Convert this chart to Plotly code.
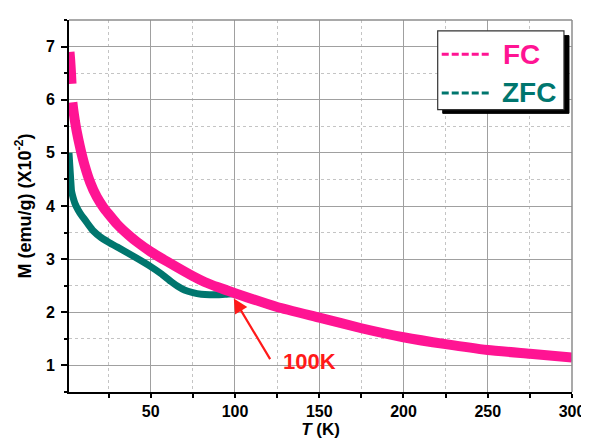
import plotly.graph_objects as go

# ---- data ----
fc_T = [1.8, 2.2, 2.6, 3.0, None,
        3.5, 4, 5, 6, 7, 8.7, 11, 14, 18, 22, 25, 30, 37, 42, 50, 60, 75, 82, 90,
        100, 125, 150, 175, 200, 225, 250, 275, 300]
fc_M = [6.9, 6.75, 6.55, 6.3, None,
        5.95, 5.82, 5.6, 5.42, 5.26, 5.02, 4.74, 4.45, 4.17, 3.97, 3.85, 3.66, 3.45, 3.32, 3.14, 2.95, 2.68, 2.57, 2.47,
        2.36, 2.1, 1.9, 1.7, 1.53, 1.4, 1.29, 1.22, 1.15]

zfc_T = [1.5, 2, 2.5, 3, 4, 5, 7, 9, 11, 13, 16, 20, 25, 30, 40, 50, 56, 62, 66, 70, 75,
         80, 85, 90, 95, 100, 110, 125, 150, 175, 200, 225, 250, 275, 300]
zfc_M = [5.0, 4.75, 4.5, 4.28, 4.15, 4.05, 3.92, 3.82, 3.74, 3.65, 3.53, 3.42, 3.32, 3.23, 3.05, 2.86,
         2.73, 2.58, 2.49, 2.42, 2.37, 2.34, 2.33, 2.33, 2.34, 2.35, 2.24, 2.09, 1.89, 1.69, 1.52,
         1.39, 1.28, 1.21, 1.14]

series_names = ["FC", "ZFC"]
x_ticks = [50, 100, 150, 200, 250, 300]
y_ticks = [1, 2, 3, 4, 5, 6, 7]

PINK = "#ff1493"
TEAL = "#00766e"
RED = "#ff1a1a"
FONT = "Arial, Liberation Sans, sans-serif"

fig = go.Figure()
fig.add_trace(go.Scatter(x=zfc_T, y=zfc_M, mode="lines", name=series_names[1],
                         line=dict(color=TEAL, width=7, shape="spline", smoothing=0.5),
                         showlegend=False))
fig.add_trace(go.Scatter(x=fc_T, y=fc_M, mode="lines", name=series_names[0],
                         line=dict(color=PINK, width=10, shape="spline", smoothing=0.5),
                         connectgaps=False, showlegend=False))

axis_common = dict(
    showline=True, linecolor="black", linewidth=2,
    showgrid=True, gridcolor="#a0a0a0", gridwidth=1.2,
    ticks="outside", tickcolor="black", tickwidth=1.5,
    tickfont=dict(family=FONT, size=16, color="black", weight="bold"),
    zeroline=False,
)

fig.update_xaxes(
    range=[1.5, 300], tickmode="array", tickvals=x_ticks, ticklen=4,
    minor=dict(dtick=25, tick0=0, showgrid=True, griddash="dot", gridcolor="#c4c4c4",
               gridwidth=1, ticks="outside", ticklen=4, tickcolor="black", tickwidth=1.5),
    title=dict(text="<i>T</i> (K)", font=dict(family=FONT, size=17, color="black", weight="bold"),
               standoff=4),
    **axis_common,
)
fig.update_yaxes(
    range=[0.5, 7.5], tickmode="array", tickvals=y_ticks, ticklen=6,
    ticklabelstandoff=3,
    minor=dict(dtick=0.5, tick0=0, showgrid=True, griddash="dot", gridcolor="#c4c4c4",
               gridwidth=1, ticks="outside", ticklen=3, tickcolor="black", tickwidth=1.5),
    title=dict(text="M (emu/g) (X10<sup>-2</sup>)",
               font=dict(family=FONT, size=18, color="black", weight="bold"), standoff=10),
    **axis_common,
)

shapes = [
    # top / right frame
    dict(type="line", xref="paper", yref="paper", x0=0, x1=1, y0=1, y1=1,
         line=dict(color="#8c8c8c", width=1.5)),
    dict(type="line", xref="paper", yref="paper", x0=1, x1=1, y0=0, y1=1,
         line=dict(color="#8c8c8c", width=1.5)),
    # legend shadow + box
    dict(type="rect", xref="paper", yref="paper", x0=0.743, x1=0.994, y0=0.749, y1=0.958,
         fillcolor="black", line=dict(color="black", width=1)),
    dict(type="rect", xref="paper", yref="paper", x0=0.733, x1=0.984, y0=0.759, y1=0.971,
         fillcolor="white", line=dict(color="#333333", width=1.2)),
    # legend samples
    dict(type="line", xref="paper", yref="paper", x0=0.741, x1=0.838, y0=0.908, y1=0.908,
         line=dict(color=PINK, width=3, dash="7px,3px")),
    dict(type="line", xref="paper", yref="paper", x0=0.741, x1=0.838, y0=0.804, y1=0.804,
         line=dict(color=TEAL, width=3, dash="7px,3px")),
]
fig.update_layout(shapes=shapes)

annotations = [
    dict(xref="paper", yref="paper", x=0.858, y=0.908, xanchor="left", yanchor="middle",
         text=series_names[0], showarrow=False,
         font=dict(family=FONT, size=28, color=PINK, weight="bold")),
    dict(xref="paper", yref="paper", x=0.856, y=0.804, xanchor="left", yanchor="middle",
         text=series_names[1], showarrow=False,
         font=dict(family=FONT, size=28, color=TEAL, weight="bold")),
    dict(x=99.3, y=2.26, ax=121.4, ay=1.09, xref="x", yref="y", axref="x", ayref="y",
         text="", showarrow=True, arrowhead=2, arrowsize=1.3, arrowwidth=2.2,
         arrowcolor=RED),
    dict(x=144.0, y=1.07, xref="x", yref="y", text="100K", showarrow=False,
         font=dict(family=FONT, size=22, color=RED, weight="bold")),
]
fig.update_layout(annotations=annotations)

fig.update_layout(
    width=589, height=440,
    margin=dict(l=61, r=15, t=12, b=46),
    paper_bgcolor="white", plot_bgcolor="white",
    font=dict(family=FONT),
)

fig.write_html("out.html")
